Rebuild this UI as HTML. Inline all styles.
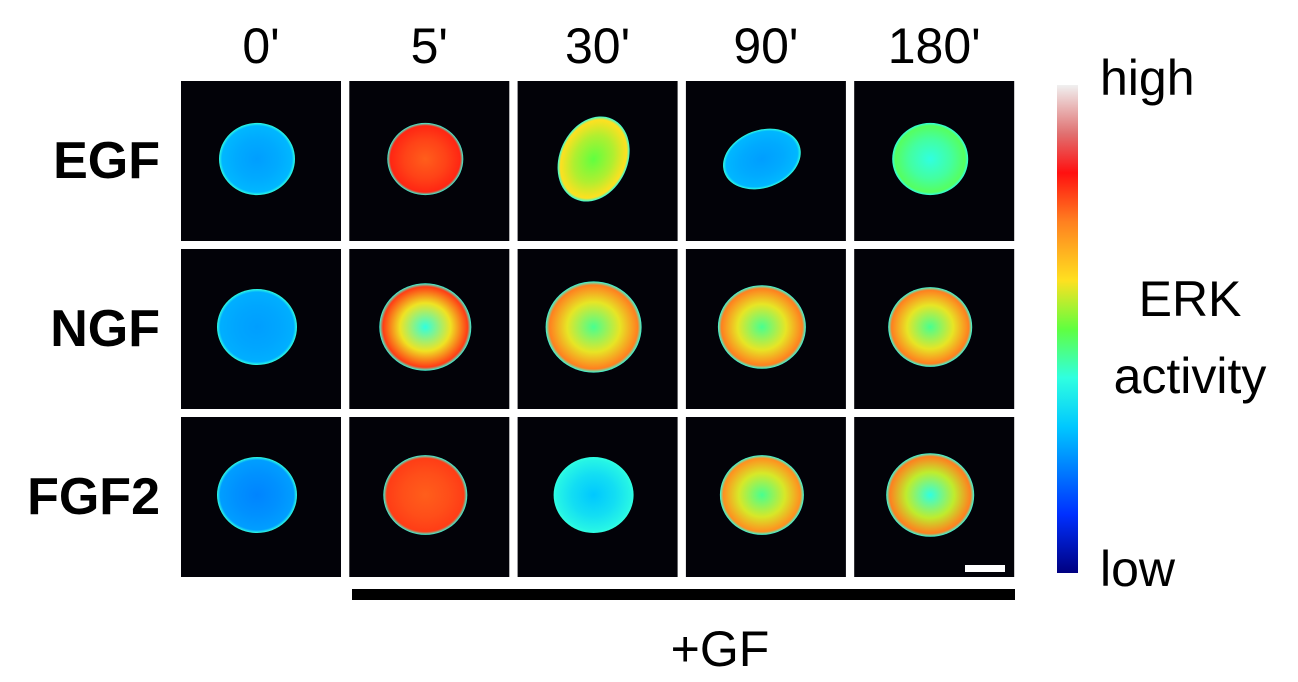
<!DOCTYPE html>
<html><head><meta charset="utf-8">
<style>
body{margin:0;background:#fff;width:1298px;height:682px;overflow:hidden;font-family:"Liberation Sans",Arial,sans-serif;}
svg{display:block}
</style></head><body>
<svg id="fig" width="1298" height="682" viewBox="0 0 1298 682">
<defs>
<linearGradient id="cbar" x1="0" y1="1" x2="0" y2="0">
<stop offset="0" stop-color="#000080"/><stop offset="0.12" stop-color="#0030ff"/>
<stop offset="0.3" stop-color="#00c8ff"/><stop offset="0.4" stop-color="#30ffe0"/>
<stop offset="0.5" stop-color="#60ff40"/><stop offset="0.6" stop-color="#ffe020"/>
<stop offset="0.72" stop-color="#ff8020"/><stop offset="0.82" stop-color="#ff1010"/>
<stop offset="0.9" stop-color="#e07070"/><stop offset="1" stop-color="#f0f0f0"/>
</linearGradient>
</defs>
<g id="cells"></g>
<rect x="1057" y="85" width="21" height="488" fill="url(#cbar)"/>
<g font-size="50" fill="#000">
<text x="1100" y="95">high</text>
<text x="1100" y="586">low</text>
<text x="1190" y="316" text-anchor="middle">ERK</text>
<text x="1190" y="393" text-anchor="middle">activity</text>
<text x="720" y="666" text-anchor="middle">+GF</text>
</g>
<rect x="352" y="589" width="663" height="11" fill="#000"/>
</svg>
<script>
const times=["0'","5'","30'","90'","180'"];
const factors=["EGF","NGF","FGF2"];
const centerLevel=[[0.25,0.75,0.5,0.25,0.4],[0.25,0.4,0.45,0.45,0.45],[0.22,0.75,0.3,0.45,0.4]];
const rimLevel=[[0.28,0.8,0.6,0.28,0.48],[0.27,0.78,0.72,0.72,0.72],[0.25,0.78,0.38,0.7,0.72]];
const cellSize=[[38,38,34,40,38],[40,46,48,44,42],[40,42,40,42,44]];
const NS="http://www.w3.org/2000/svg";
const svg=document.getElementById('fig');
const defs=svg.querySelector('defs');
const g=document.getElementById('cells');
const stops=[[0,[0,0,128]],[0.12,[0,48,255]],[0.3,[0,200,255]],[0.4,[48,255,224]],[0.5,[96,255,64]],[0.6,[255,224,32]],[0.72,[255,128,32]],[0.82,[255,16,16]],[0.9,[224,112,112]],[1,[240,240,240]]];
function cmap(v){for(let i=1;i<stops.length;i++){if(v<=stops[i][0]){const a=stops[i-1],b=stops[i];const t=(v-a[0])/(b[0]-a[0]);const c=a[1].map((x,k)=>Math.round(x+(b[1][k]-x)*t));return `rgb(${c})`;}}return 'rgb(240,240,240)';}
const colX=j=>181+j*168.3, rowY=i=>81+i*168, P=160;
factors.forEach((f,i)=>{
  const t=document.createElementNS(NS,'text');
  t.setAttribute('x',160);t.setAttribute('y',rowY(i)+97);t.setAttribute('text-anchor','end');
  t.setAttribute('font-size','52');t.setAttribute('font-weight','bold');t.textContent=f;
  
  
  svg.appendChild(t);
});
times.forEach((tm,j)=>{
  const t=document.createElementNS(NS,'text');
  t.setAttribute('x',colX(j)+P/2);t.setAttribute('y',63);t.setAttribute('text-anchor','middle');
  t.setAttribute('font-size','50');t.textContent=tm;
  
  
  svg.appendChild(t);
});
factors.forEach((f,i)=>times.forEach((tm,j)=>{
  const x=colX(j),y=rowY(i);
  const r=document.createElementNS(NS,'rect');
  r.setAttribute('x',x);r.setAttribute('y',y);r.setAttribute('width',P);r.setAttribute('height',P);r.setAttribute('fill','#020208');
  
  
  g.appendChild(r);
  const id='gr'+i+'_'+j;
  const rg=document.createElementNS(NS,'radialGradient');rg.setAttribute('id',id);
  [[0,centerLevel[i][j]],[0.55,(centerLevel[i][j]+rimLevel[i][j])/2],[0.92,rimLevel[i][j]],[1,0.4]].forEach(([o,v])=>{const s=document.createElementNS(NS,'stop');s.setAttribute('offset',o);s.setAttribute('stop-color',cmap(v));rg.appendChild(s);});
  defs.appendChild(rg);
  const e=document.createElementNS(NS,'ellipse');
  const rr=cellSize[i][j];
  e.setAttribute('cx',x+P/2-4);e.setAttribute('cy',y+P/2-2);
  e.setAttribute('rx',rr);e.setAttribute('ry',rr*(j===2&&i===0?1.3:0.95));
  if(i===0&&j===3){e.setAttribute('rx',rr);e.setAttribute('ry',rr*0.72);e.setAttribute('transform',`rotate(-20 ${x+P/2-4} ${y+P/2-2})`);}
  if(i===0&&j===2){e.setAttribute('transform',`rotate(25 ${x+P/2-4} ${y+P/2-2})`);}
  e.setAttribute('fill','url(#'+id+')');
  
  
  g.appendChild(e);
}));
const sb=document.createElementNS(NS,'rect');
sb.setAttribute('x',965);sb.setAttribute('y',565);sb.setAttribute('width',40);sb.setAttribute('height',7);sb.setAttribute('fill','#fff');


g.appendChild(sb);
</script>
</body></html>
